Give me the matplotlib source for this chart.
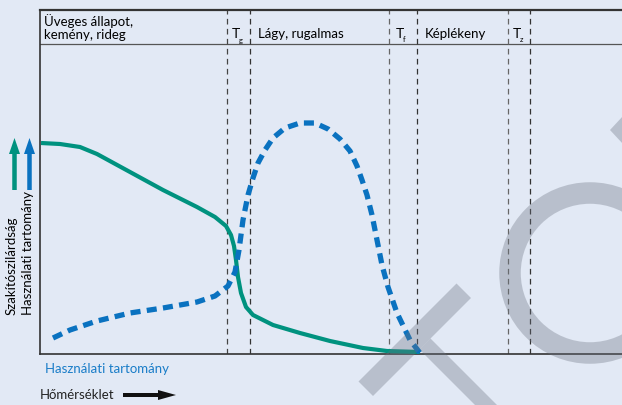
import matplotlib.pyplot as plt
from matplotlib.patches import Polygon, Ellipse

plt.rcParams['font.family'] = ['Lato', 'DejaVu Sans']

# curve data, x = temperature (px-like units), y = value
szak_x = [1, 20, 40, 57, 90, 123, 157, 175, 186, 191, 194, 196, 198, 201, 206, 213, 233, 260, 290, 323, 347, 380]
szak_y = [211, 210, 207, 200, 182, 164, 147, 137, 128, 119, 108, 94, 77, 61, 47, 39, 29, 21, 13, 6, 3, 2]

haszn_x = [13, 30, 57, 90, 123, 157, 175, 188, 195, 199, 203, 208, 213, 218, 225, 233, 245, 260, 275,
           288, 300, 310, 317, 322, 327, 332, 337, 342, 348, 357, 370, 380]
haszn_y = [16, 24, 33, 41, 46, 52, 58, 68, 82, 104, 134, 159, 176, 191, 204, 216, 226, 231, 231,
           225, 215, 203, 188, 174, 159, 139, 114, 89, 67, 41, 14, 1]

# transition temperatures (dashed lines)
trans_x = [187, 210, 349, 377, 468, 490]
trans_col = ['#444444', '#333333', '#666666', '#333333', '#666666', '#333333']

bg = '#e2e9f5'
green = '#00927f'
blue = '#0a72c0'

fig = plt.figure(figsize=(6.22, 4.05), dpi=100, facecolor=bg)
ax = fig.add_axes([40 / 622, 51 / 405, 582 / 622, 344 / 405])
ax.set_facecolor(bg)
ax.set_xlim(0, 582)
ax.set_ylim(0, 344)
ax.set_xticks([])
ax.set_yticks([])
ax.spines['right'].set_visible(False)
for s in ['left', 'bottom']:
    ax.spines[s].set_color('#333333')
    ax.spines[s].set_linewidth(1.2)
ax.spines['top'].set_color('#333333')
ax.spines['top'].set_linewidth(1.6)

# header separator
ax.axhline(310, color='#555555', lw=0.9)
for x, c in zip(trans_x, trans_col):
    ax.axvline(x, color=c, lw=0.9, linestyle=(0, (4.5, 3.5)))

ax.plot(szak_x, szak_y, color=green, lw=3.0, solid_capstyle='butt', zorder=3)
ax.plot(haszn_x, haszn_y, color=blue, lw=3.8, linestyle=(0, (1.9, 1.2)),
        dash_capstyle='butt', zorder=4)

# header labels
fs = 9.5
ax.text(4, 326.5, 'Üveges állapot,\nkemény, rideg', fontsize=fs, va='center', ha='left', linespacing=1.08)
ax.text(218, 320, 'Lágy, rugalmas', fontsize=fs, va='center', ha='left')
ax.text(385, 320, 'Képlékeny', fontsize=fs, va='center', ha='left')
for xt, sub in [(192, 'g'), (356, 'f'), (473, 'z')]:
    ax.text(xt, 320, 'T', fontsize=fs + 0.5, va='center', ha='left')
    ax.text(xt + 7, 314, sub, fontsize=5.5, va='center', ha='left')

# overlay in pixel units for outside labels, arrows, watermark
ov = fig.add_axes([0, 0, 1, 1], facecolor='none')
ov.set_xlim(0, 622)
ov.set_ylim(405, 0)
ov.axis('off')

ov.text(12, 315, 'Szakítószilárdság', rotation=90, fontsize=fs, ha='center', va='bottom')
ov.text(28.5, 315, 'Használati tartomány', rotation=90, fontsize=fs, ha='center', va='bottom')
ov.arrow(14.5, 190, 0, -52, width=4.5, head_width=11, head_length=16,
         length_includes_head=True, color=green, lw=0)
ov.arrow(29.5, 190, 0, -52, width=4.5, head_width=11, head_length=16,
         length_includes_head=True, color=blue, lw=0)

ov.text(45, 369, 'Használati tartomány', fontsize=fs, color='#1a7dc8', ha='left', va='center')
ov.text(40, 395, 'Hőmérséklet', fontsize=fs, color='#222222', ha='left', va='center')
ov.arrow(123, 395, 53, 0, width=4, head_width=10, head_length=18,
         length_includes_head=True, color='#111111', lw=0)

# watermark
wm = dict(facecolor='#6b7280', edgecolor='none', alpha=0.345, zorder=10)


def rot_rect(u0, u1, v0, v1):
    pts = [(u0, v0), (u0, v1), (u1, v1), (u1, v0)]
    return [((u + v) / 2, (u - v) / 2) for u, v in pts]


ov.add_patch(Polygon(rot_rect(740, 769, -23, 173), **wm))
ov.add_patch(Polygon(rot_rect(769, 920, 70, 92), **wm))
ov.add_patch(Ellipse((590, 273), 160, 160, fill=False, lw=15.5,
                     edgecolor='#6b7280', alpha=0.345, zorder=10))
ov.add_patch(Polygon([(610, 130), (623, 116), (623, 144)], **wm))

fig.savefig('out.png', dpi=100, facecolor=bg)
